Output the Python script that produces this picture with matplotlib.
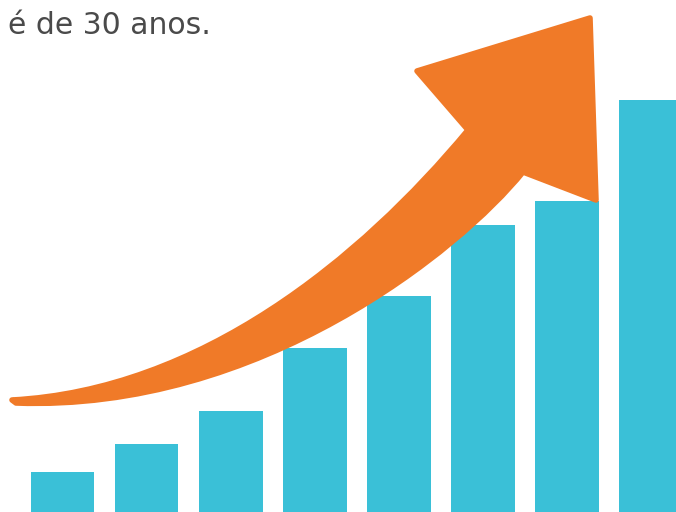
import numpy as np
import matplotlib.pyplot as plt
from matplotlib.patches import PathPatch
from matplotlib.path import Path

# bar heights (pixels above the bottom edge)
positions = [0, 1, 2, 3, 4, 5, 6, 7]
heights = [40, 68, 101, 164, 216, 287, 311, 412]

bar_color = '#3ac0d7'
arrow_color = '#f07a28'

fig = plt.figure(figsize=(6.76, 5.12), dpi=100)
ax = fig.add_axes([0, 0, 1, 1])
ax.bar(positions, heights, width=0.76, color=bar_color, zorder=1)
ax.set_xlim(-0.744, 7.30)
ax.set_ylim(0, 512)
ax.axis('off')

# overlay in pixel space for the arrow and the caption
ov = fig.add_axes([0, 0, 1, 1])
ov.set_xlim(0, 676)
ov.set_ylim(512, 0)
ov.axis('off')
ov.patch.set_alpha(0)

# curved arrow: bezier shaft edges + straight-edged head
verts = [(12, 400),
         (200, 390), (360, 260), (468, 130),   # upper edge of shaft
         (417, 71), (590, 18), (596, 200),      # head
         (523, 172),
         (460, 250), (260, 412), (16, 403),     # lower edge of shaft
         (12, 400)]
codes = [Path.MOVETO,
         Path.CURVE4, Path.CURVE4, Path.CURVE4,
         Path.LINETO, Path.LINETO, Path.LINETO,
         Path.LINETO,
         Path.CURVE4, Path.CURVE4, Path.CURVE4,
         Path.CLOSEPOLY]
ov.add_patch(PathPatch(Path(verts, codes), facecolor=arrow_color,
                       edgecolor=arrow_color, linewidth=4, joinstyle='round'))

ov.text(8, 25, 'é de 30 anos.', fontsize=21.5, color='#4a4a4a', va='center', ha='left')

fig.savefig('out.png', dpi=100)
